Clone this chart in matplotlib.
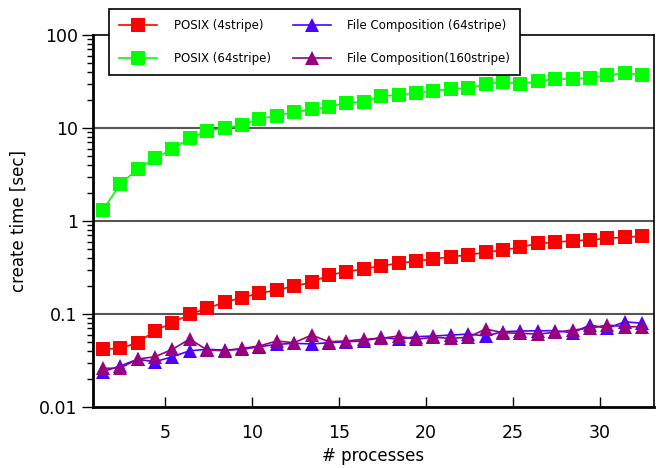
import numpy as np
import matplotlib
matplotlib.use('Agg')
import matplotlib.pyplot as plt
from matplotlib.ticker import FixedLocator, LogLocator, NullFormatter

# number of processes
procs = np.arange(1, 33)

posix_4 = [0.0417, 0.0427, 0.0491, 0.0661, 0.0805, 0.0993, 0.115, 0.134,
           0.150, 0.167, 0.181, 0.200, 0.219, 0.262, 0.285, 0.305,
           0.330, 0.351, 0.371, 0.390, 0.413, 0.431, 0.461, 0.488,
           0.521, 0.575, 0.590, 0.614, 0.625, 0.652, 0.668, 0.690]

posix_64 = [1.31, 2.48, 3.62, 4.72, 5.95, 7.75, 9.29, 9.93,
            10.8, 12.5, 13.6, 14.8, 15.9, 16.9, 18.7, 19.2,
            22.1, 22.6, 24.0, 25.0, 26.3, 26.9, 29.5, 31.5,
            29.7, 32.0, 33.6, 33.6, 34.8, 36.9, 38.8, 37.4]

fc_64 = [0.0240, 0.0276, 0.0326, 0.0307, 0.0347, 0.0403, 0.0417, 0.0410,
         0.0417, 0.0445, 0.0472, 0.0484, 0.0477, 0.0491, 0.0504, 0.0513,
         0.0562, 0.0535, 0.0571, 0.0580, 0.0594, 0.0609, 0.0580, 0.0646,
         0.0656, 0.0661, 0.0661, 0.0630, 0.0762, 0.0702, 0.0826, 0.0794]

fc_160 = [0.0261, 0.0261, 0.0328, 0.0347, 0.0417, 0.0538, 0.0410, 0.0403,
          0.0427, 0.0453, 0.0513, 0.0491, 0.0594, 0.0504, 0.0513, 0.0535,
          0.0548, 0.0580, 0.0535, 0.0562, 0.0548, 0.0562, 0.0690, 0.0630,
          0.0620, 0.0609, 0.0635, 0.0673, 0.0702, 0.0762, 0.0730, 0.0730]

x_tick_labels = ['5', '10', '15', '20', '25', '30']
y_tick_labels = ['0.01', '0.1', '1', '10', '100']

plt.rcParams['font.family'] = ['DejaVu Sans']

fig = plt.figure(figsize=(6.62, 4.68), dpi=100)
ax = fig.add_axes([0.1405, 0.1303, 0.8475, 0.7949])

# horizontal grid at the decades
for v in [0.1, 1, 10]:
    ax.axhline(v, color='#555555', lw=1.5, zorder=1)

ax.plot(procs, posix_4, color='#ff0000', marker='s', ms=10, mew=0, lw=1.2,
        label='POSIX (4stripe)', zorder=3)
ax.plot(procs, posix_64, color='#00ff00', marker='s', ms=10, mew=0, lw=1.2,
        label='POSIX (64stripe)', zorder=3)
ax.plot(procs, fc_64, color='#4d00ff', marker='^', ms=9.5, mew=0, lw=1.2,
        label='File Composition (64stripe)', zorder=3)
ax.plot(procs, fc_160, color='#99007f', marker='^', ms=9.5, mew=0, lw=1.2,
        label='File Composition(160stripe)', zorder=4)

ax.set_yscale('log')
ax.set_ylim(0.01, 100)
ax.set_xlim(0.44, 32.68)

# tick labels sit slightly left of the integer positions in the original
ax.xaxis.set_major_locator(FixedLocator(np.array([5, 10, 15, 20, 25, 30]) - 0.42))
ax.set_xticklabels(x_tick_labels)
ax.yaxis.set_major_locator(FixedLocator([0.01, 0.1, 1, 10, 100]))
ax.set_yticklabels(y_tick_labels)
ax.yaxis.set_minor_locator(LogLocator(base=10, subs=np.arange(2, 10)))
ax.yaxis.set_minor_formatter(NullFormatter())

ax.tick_params(axis='x', direction='in', length=7, width=1, pad=12, labelsize=12.5)
ax.tick_params(axis='y', which='major', direction='out', length=8, width=1,
               pad=3, labelsize=12.5)
ax.tick_params(axis='y', which='minor', direction='out', length=4, width=1)

for side in ['left', 'bottom']:
    ax.spines[side].set_linewidth(2)
for side in ['right', 'top']:
    ax.spines[side].set_linewidth(1.2)

ax.set_xlabel('# processes', fontsize=12, labelpad=4)
ax.set_ylabel('create time [sec]', fontsize=12, labelpad=8)

leg = fig.legend(loc='upper left', bbox_to_anchor=(0.165, 0.842, 0.621, 0.139),
                 mode='expand', ncol=2, fontsize=8.5, frameon=True, fancybox=False,
                 edgecolor='black', framealpha=1, handlelength=3.2,
                 handletextpad=1.4, borderpad=0.85, labelspacing=1.7,
                 columnspacing=1.5, borderaxespad=0)
leg.get_frame().set_linewidth(1.2)
leg.set_zorder(10)

fig.savefig('out.png', dpi=100)
